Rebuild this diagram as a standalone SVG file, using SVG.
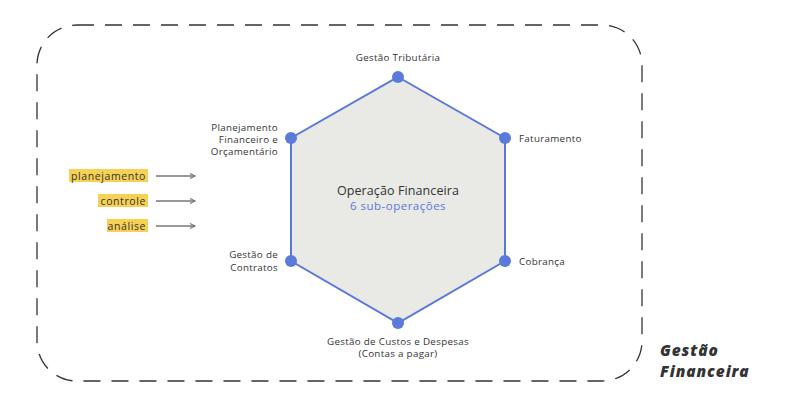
<svg xmlns="http://www.w3.org/2000/svg" width="800" height="400" viewBox="0 0 800 400">
<style>
.lbl{font-family:"Open Sans","Noto Sans",sans-serif;font-size:9.8px;letter-spacing:0.3px;fill:#333}
.r{text-anchor:end}
.m{text-anchor:middle}
.tag{font-family:"Open Sans","Noto Sans",sans-serif;font-size:10.5px;letter-spacing:0.6px;fill:#333;text-anchor:end}
.hl{fill:#f7d154}
.dot{fill:#5b7bdb}
.arr{stroke:#777;stroke-width:1.3;fill:none;marker-end:url(#ah)}
.ttl{font-family:"Open Sans","Noto Sans",sans-serif;font-size:15.5px;font-weight:800;font-style:italic;letter-spacing:0.9px;fill:#333}
</style>
<defs>
<marker id="ah" markerWidth="8" markerHeight="8" refX="6" refY="4" orient="auto" markerUnits="userSpaceOnUse">
<path d="M1,1.5 L6,4 L1,6.5" fill="none" stroke="#777" stroke-width="1.2"/>
</marker>
</defs>
<rect width="800" height="400" fill="#fff"/>
<rect id="frame" x="37" y="25" width="605" height="356" rx="40" ry="40" fill="none" stroke="#333" stroke-width="1.3" stroke-dasharray="17 11"/>
<g id="hexagon">
<polygon points="398,77 505,138 505,261 398,323 291,261 291,138" fill="#e9e9e6" stroke="#5b78d8" stroke-width="2"/>
<text class="lbl m" x="398" y="195" style="font-size:12.5px;letter-spacing:0.1px">Operação Financeira</text>
<text class="lbl m" x="398" y="210" style="font-size:11.5px;letter-spacing:0.5px;fill:#5b78d8">6 sub-operações</text>
</g>
<g id="n-tributaria"><circle class="dot" cx="398" cy="77" r="6"/><text class="lbl m" x="398" y="61">Gestão Tributária</text></g>
<g id="n-faturamento"><circle class="dot" cx="505" cy="138" r="6"/><text class="lbl" x="519" y="142">Faturamento</text></g>
<g id="n-cobranca"><circle class="dot" cx="505" cy="261" r="6"/><text class="lbl" x="519" y="265">Cobrança</text></g>
<g id="n-custos"><circle class="dot" cx="398" cy="323" r="6"/><text class="lbl m" x="398" y="345">Gestão de Custos e Despesas</text><text class="lbl m" x="398" y="357">(Contas a pagar)</text></g>
<g id="n-contratos"><circle class="dot" cx="291" cy="261" r="6"/><text class="lbl r" x="278" y="258">Gestão de</text><text class="lbl r" x="278" y="270.5">Contratos</text></g>
<g id="n-planejamento"><circle class="dot" cx="291" cy="138" r="6"/><text class="lbl r" x="278" y="130.5">Planejamento</text><text class="lbl r" x="278" y="142.5">Financeiro e</text><text class="lbl r" x="278" y="154.5">Orçamentário</text></g>
<g id="t-planejamento"><rect class="hl" x="69" y="169" width="79" height="13"/><text class="tag" x="146" y="179.5">planejamento</text></g>
<g id="t-controle"><rect class="hl" x="98" y="194" width="50" height="13"/><text class="tag" x="146" y="204.5">controle</text></g>
<g id="t-analise"><rect class="hl" x="107" y="219" width="41" height="13"/><text class="tag" x="146" y="229.5">análise</text></g>
<g id="connectors">
<line class="arr" x1="156" y1="176" x2="195" y2="176"/>
<line class="arr" x1="156" y1="201" x2="195" y2="201"/>
<line class="arr" x1="156" y1="226" x2="195" y2="226"/>
</g>
<g id="title"><text class="ttl" x="660" y="356">Gestão</text><text class="ttl" x="660" y="377">Financeira</text></g>
</svg>
